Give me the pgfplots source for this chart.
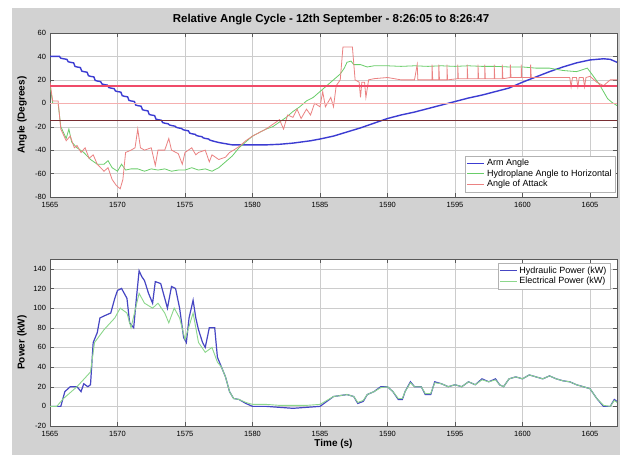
\documentclass[border=0pt]{standalone}
\usepackage{pgfplots}
\pgfplotsset{compat=1.18}
\usepackage{fontspec}
\setmainfont{Liberation Sans}
\definecolor{figbg}{RGB}{210,210,210}
\definecolor{armblue}{RGB}{60,60,210}
\definecolor{hydgreen}{RGB}{105,205,105}
\definecolor{aoapink}{RGB}{235,130,130}
\definecolor{hydrblue}{RGB}{70,70,195}
\definecolor{elecgreen}{RGB}{140,215,140}
\definecolor{hlred}{RGB}{240,75,105}
\definecolor{hldark}{RGB}{120,45,50}
\definecolor{hlzero}{RGB}{245,175,175}
\pgfplotsset{
  matlab/.style={
    scale only axis,
    width=567pt,
    xmin=1565, xmax=1607,
    xtick={1565,1570,...,1605},
    grid=major,
    grid style={gray!40, line width=0.4pt},
    axis line style={gray!70!black, line width=0.5pt},
    tick align=inside,
    tick style={gray!70!black},
    axis background/.style={fill=white},
    tick label style={font=\fontsize{7.5}{8}\selectfont},
    xticklabel style={yshift=-1.5pt},
    yticklabel style={xshift=-0.5pt},
    /pgf/number format/assume math mode=true,
    /pgf/number format/1000 sep={},
    label style={font=\fontsize{10}{11}\selectfont\bfseries},
    ylabel style={at={(axis description cs:-0.0494,0.5)}, anchor=center},
    legend cell align=left,
    legend style={font=\fontsize{9}{9.5}\selectfont, draw=gray!60, fill=white, inner sep=1.5pt, row sep=-1.5pt},
  }
}
\begin{document}
\begin{tikzpicture}[x=1pt,y=1pt]
\fill[white] (0,0) rectangle (620,455);
\fill[figbg] (12,0) rectangle (620,447);
\begin{axis}[matlab,
  at={(50pt,422pt)}, anchor=north west,
  height=164pt,
  ymin=-80, ymax=60, ytick={-80,-60,...,60},
  ylabel={Angle (Degrees)},
  legend style={at={(0.997,0.03)}, anchor=south east},
]
\addplot[color=armblue, line width=1.4pt] coordinates {
(1565,40)(1565.7,40)(1565.8,38.5)(1566.0,38)(1566.25,37.5)(1566.35,35.5)(1566.5,35)(1566.75,34.5)(1566.85,31.5)(1567.0,31)(1567.25,30.5)(1567.35,27.5)(1567.5,27)(1567.75,26.5)(1567.85,23.5)(1568.0,23)(1568.25,22.5)(1568.35,19.5)(1568.5,19)(1568.75,18.5)(1568.85,16.5)(1569.0,16)(1569.25,15.5)(1569.35,13.5)(1569.5,13)(1569.75,12.5)(1569.85,10.5)(1570.0,10)(1570.25,9.5)(1570.35,6.5)(1570.5,6)(1570.75,5.5)(1570.85,2.5)(1571.0,2)(1571.25,1.5)(1571.35,-1.5)(1571.5,-2)(1571.75,-2.5)(1571.85,-5.5)(1572.0,-6)(1572.25,-6.5)(1572.35,-9.5)(1572.5,-10)(1572.75,-10.5)(1572.85,-13.5)(1573.0,-14)(1573.25,-14.5)(1573.35,-16.5)(1573.5,-17)(1573.75,-17.5)(1573.85,-18.5)(1574.0,-19)(1574.25,-19.5)(1574.35,-20.5)(1574.5,-21)(1574.75,-21.5)(1574.85,-22.5)(1575.0,-23)(1575.25,-23.5)(1575.35,-25.5)(1575.5,-26)(1575.75,-26.5)(1575.85,-27.5)(1576.0,-28)(1576.25,-28.5)(1576.35,-29.5)(1576.5,-30)(1576.75,-30.5)(1576.85,-31.5)(1577.0,-32)(1577.5,-33.5)(1578.0,-34.5)(1578.5,-35.5)(1579,-35.5)(1580,-35.5)(1581,-35.5)(1582,-35)(1583,-34)(1584.3,-32)(1585,-30.5)(1586,-28)(1587,-24.5)(1588,-21)(1589,-17)(1590,-13)(1591,-10)(1592,-7.5)(1593,-4.5)(1594,-1.5)(1595,1.5)(1596,4.5)(1597,7)(1598,10)(1599,13)(1600,18)(1601,22.5)(1602,27)(1603,31)(1604,34.5)(1605,37)(1606,38)(1606.5,37.5)(1607,35)
};
\addlegendentry{Arm Angle}
\addplot[color=hydgreen, line width=0.8pt] coordinates {
(1565,15)(1565.2,0)(1565.6,0)(1565.8,-20)(1566.2,-30)(1566.4,-22)(1566.6,-33)(1567,-38)(1567.5,-42)(1568,-48)(1568.5,-52)(1569,-52)(1569.3,-49)(1569.6,-55)(1570,-58)(1570.3,-52)(1570.6,-57)(1571,-56)(1571.5,-56)(1572,-58)(1572.5,-56)(1573,-57)(1573.5,-56)(1574,-58)(1574.5,-57)(1575,-57)(1575.5,-55)(1576,-57)(1576.5,-56)(1577,-58)(1577.5,-55)(1578,-50)(1578.5,-45)(1579,-38)(1579.5,-33)(1580,-28)(1580.5,-25)(1581,-22)(1581.5,-20)(1582,-16)(1582.5,-12)(1583,-7)(1583.5,-3)(1584,2)(1584.5,5)(1585,10)(1585.5,15)(1586,20)(1586.5,25)(1586.8,30)(1587,35)(1587.3,36)(1587.5,33)(1588,33)(1588.5,31)(1589,32)(1590,32)(1591,31.5)(1592,32)(1593,31.5)(1594,32)(1595,31.5)(1596,32)(1597,31.5)(1598,31.5)(1599,31)(1600,31)(1601,30)(1602,30)(1603,28)(1604,27)(1604.8,30)(1605,27)(1605.7,16)(1606.3,4)(1606.6,1)(1607,-2)
};
\addlegendentry{Hydroplane Angle to Horizontal}
\addplot[color=aoapink, line width=0.8pt] coordinates {
(1565,18)(1565.2,2)(1565.6,2)(1565.8,-22)(1566.2,-32)(1566.5,-28)(1566.8,-38)(1567,-36)(1567.3,-42)(1567.6,-38)(1567.9,-47)(1568.2,-44)(1568.5,-52)(1569,-58)(1569.3,-55)(1569.6,-65)(1569.9,-70)(1570.2,-73)(1570.4,-65)(1570.6,-42)(1571,-40)(1571.3,-38)(1571.5,-22)(1571.7,-38)(1572,-40)(1572.5,-38)(1572.8,-53)(1573,-40)(1573.5,-40)(1573.8,-30)(1574,-40)(1574.5,-43)(1574.8,-52)(1575,-42)(1575.5,-38)(1575.8,-44)(1576,-42)(1576.5,-40)(1576.8,-50)(1577,-44)(1577.5,-48)(1578,-46)(1578.3,-42)(1578.6,-40)(1579,-37)(1579.5,-32)(1580,-28)(1580.5,-25)(1581,-22)(1581.5,-18)(1582,-14)(1582.3,-22)(1582.6,-10)(1583,-12)(1583.3,-5)(1583.6,-13)(1584,-5)(1584.3,-10)(1584.6,0)(1585,-3)(1585.2,10)(1585.4,-3)(1585.8,5)(1586,-3)(1586.2,15)(1586.5,20)(1586.7,48)(1587.4,48)(1587.6,20)(1587.9,18)(1588,5)(1588.1,18)(1588.3,18)(1588.4,5)(1588.6,20)(1589,21)(1590,22)(1591,20)(1592,20)(1592.2,33)(1592.25,20)(1593.3,20)(1593.3,33)(1593.35,20)(1593.8,20)(1593.8,33)(1593.85,20)(1594.4,20)(1594.4,33)(1594.45,20)(1595.2,21)(1595.2,33)(1595.25,21)(1595.9,21)(1595.9,33)(1595.95,21)(1596.7,21)(1596.7,33)(1596.75,21)(1597.2,21)(1597.2,33)(1597.25,21)(1597.9,21)(1597.9,33)(1597.95,21)(1598.5,21)(1598.5,33)(1598.55,21)(1599.1,22)(1599.1,33)(1599.15,22)(1599.9,22)(1599.9,33)(1599.95,22)(1600.6,22)(1600.6,33)(1600.65,22)(1601.5,22)(1602.5,22)(1603.5,22)(1603.6,14)(1603.7,22)(1604,22)(1604.1,14)(1604.2,22)(1604.5,22)(1604.6,14)(1604.7,22)(1605,23)(1605.5,18)(1606,15)(1606.5,20)(1607,20)
};
\addlegendentry{Angle of Attack}
\addplot[color=hlzero, line width=0.8pt] coordinates {(1565,0)(1607,0)};
\addplot[color=hldark, line width=0.8pt] coordinates {(1565,-15)(1607,-15)};
\addplot[color=hlred, line width=1.9pt] coordinates {(1565,15)(1607,15)};
\end{axis}
\begin{axis}[matlab,
  at={(50pt,196pt)}, anchor=north west,
  height=167pt,
  ymin=-20, ymax=150, ytick={-20,0,...,140},
  ylabel={Power (kW)},
  xlabel={Time (s)},
  xlabel style={yshift=4pt},
  legend style={at={(0.988,0.976)}, anchor=north east},
]
\addplot[color=hydrblue, line width=1.2pt] coordinates {
(1565,0)(1565.5,0)(1565.8,0)(1566.1,15)(1566.5,20)(1567,20)(1567.3,15)(1567.5,23)(1567.8,20)(1568,22)(1568.2,65)(1568.5,75)(1568.7,90)(1569,92)(1569.5,95)(1569.8,110)(1570,118)(1570.3,120)(1570.7,110)(1570.9,85)(1571.2,80)(1571.4,110)(1571.6,138)(1571.8,132)(1572,128)(1572.3,115)(1572.6,105)(1572.8,127)(1573.2,125)(1573.5,110)(1573.7,100)(1574,122)(1574.3,120)(1574.6,100)(1574.9,70)(1575.1,65)(1575.3,90)(1575.6,108)(1575.8,90)(1576,78)(1576.3,65)(1576.5,60)(1576.8,80)(1577.2,80)(1577.4,50)(1577.7,40)(1578,30)(1578.3,15)(1578.6,8)(1579,7)(1579.5,3)(1580,0)(1581,0)(1582,-1)(1583,-2)(1584,-1)(1585,0)(1585.5,5)(1586,10)(1587,12)(1587.5,10)(1587.8,3)(1588.2,5)(1588.5,12)(1589,15)(1589.5,20)(1590,20)(1590.4,15)(1590.8,7)(1591.1,7)(1591.3,15)(1591.7,25)(1592,20)(1592.5,20)(1592.8,12)(1593.2,12)(1593.5,25)(1594,23)(1594.5,20)(1595,22)(1595.5,20)(1596,25)(1596.5,22)(1597,28)(1597.5,25)(1598,28)(1598.3,22)(1598.6,20)(1599,28)(1599.5,30)(1600,28)(1600.5,32)(1601,30)(1601.5,28)(1602,31)(1602.5,28)(1603,26)(1603.5,25)(1604,22)(1604.5,20)(1605,18)(1605.5,8)(1606,0)(1606.5,0)(1606.8,7)(1607,5)
};
\addlegendentry{Hydraulic Power (kW)}
\addplot[color=elecgreen, line width=0.9pt] coordinates {
(1565,0)(1565.5,0)(1566,8)(1567,20)(1568,35)(1568.3,65)(1569,78)(1569.8,90)(1570.2,100)(1570.7,95)(1571,80)(1571.6,115)(1572,105)(1572.6,100)(1573,105)(1573.5,95)(1573.8,85)(1574.2,100)(1574.6,90)(1575,68)(1575.6,95)(1576,65)(1576.5,55)(1577,60)(1577.4,45)(1577.7,40)(1578,30)(1578.3,15)(1578.6,8)(1579,7)(1579.5,4)(1580,2)(1581,2)(1582,1)(1583,1)(1584,1)(1585,2)(1585.5,6)(1586,10)(1587,12)(1587.5,10)(1587.8,4)(1588.2,6)(1588.5,12)(1589,15)(1589.5,19)(1590,20)(1590.4,15)(1590.8,8)(1591.1,8)(1591.3,15)(1591.7,24)(1592,20)(1592.5,20)(1592.8,13)(1593.2,13)(1593.5,24)(1594,23)(1594.5,20)(1595,22)(1595.5,20)(1596,25)(1596.5,22)(1597,27)(1597.5,25)(1598,27)(1598.3,22)(1598.6,20)(1599,28)(1599.5,30)(1600,28)(1600.5,32)(1601,30)(1601.5,28)(1602,31)(1602.5,28)(1603,26)(1603.5,25)(1604,22)(1604.5,20)(1605,18)(1605.5,8)(1606,1)(1606.5,0)(1606.8,6)(1607,4)
};
\addlegendentry{Electrical Power (kW)}
\end{axis}
\node[font=\fontsize{11.5}{13}\selectfont\bfseries] at (331,435) {Relative Angle Cycle - 12th September - 8:26:05 to 8:26:47};
\pgfresetboundingbox
\path (0,0) rectangle (620,455);
\end{tikzpicture}
\end{document}
